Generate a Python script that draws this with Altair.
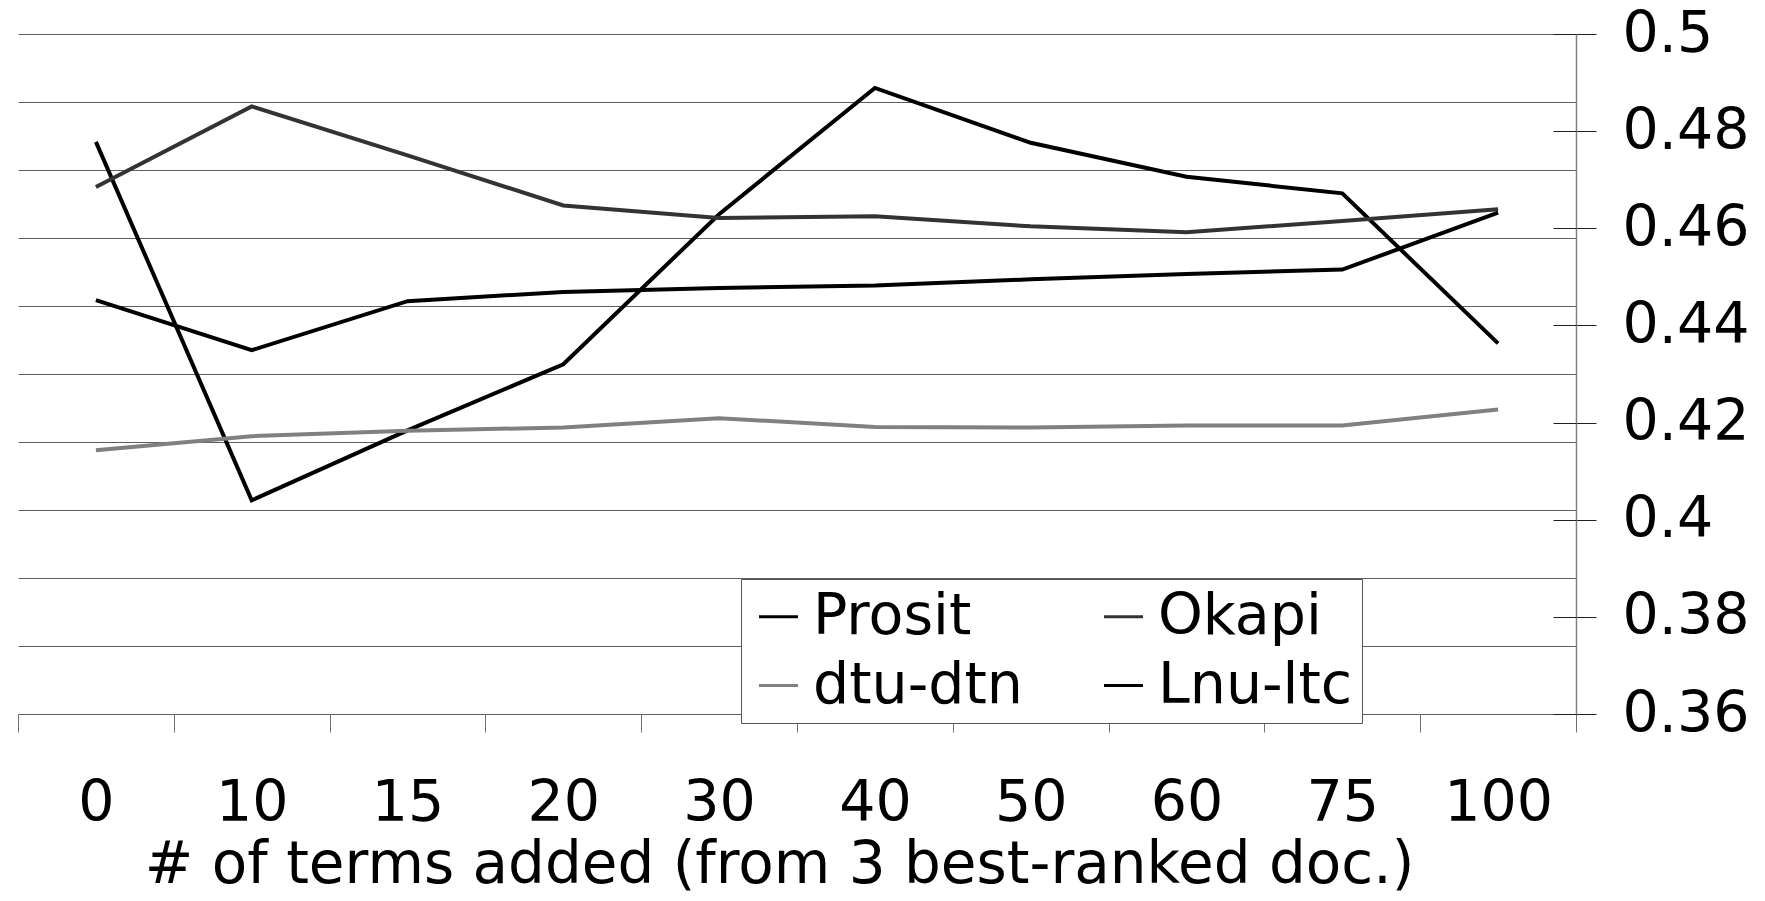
import altair as alt
import pandas as pd

# ---- data ----
terms = ["0", "10", "15", "20", "30", "40", "50", "60", "75", "100"]
prosit = [0.4778, 0.4040, 0.4184, 0.4320, 0.4629, 0.4889, 0.4776, 0.4706, 0.4672, 0.4363]
okapi = [0.4685, 0.4851, 0.4750, 0.4647, 0.4621, 0.4625, 0.4604, 0.4592, 0.4615, 0.4639]
dtu_dtn = [0.4143, 0.4172, 0.4183, 0.4190, 0.4209, 0.4191, 0.4190, 0.4194, 0.4194, 0.4227]
lnu_ltc = [0.4452, 0.4349, 0.4450, 0.4469, 0.4477, 0.4482, 0.4495, 0.4506, 0.4515, 0.4632]

series_names = ["Prosit", "Okapi", "dtu-dtn", "Lnu-ltc"]
# legend is filled column by column, so list it as: col1 (Prosit, dtu-dtn), col2 (Okapi, Lnu-ltc)
legend_order = ["Prosit", "dtu-dtn", "Okapi", "Lnu-ltc"]
legend_colors = ["#000000", "#808080", "#333333", "#000000"]
right_ticks = [0.36, 0.38, 0.40, 0.42, 0.44, 0.46, 0.48, 0.50]
grid_values = [0.36, 0.374, 0.388, 0.402, 0.416, 0.43, 0.444, 0.458, 0.472, 0.486, 0.5]
y_domain = [0.36, 0.5]

rows = []
for name, vals in zip(series_names, [prosit, okapi, dtu_dtn, lnu_ltc]):
    for t, v in zip(terms, vals):
        rows.append({"terms": t, "series": name, "value": v})
df = pd.DataFrame(rows)

FONT = "DejaVu Sans"
xscale = alt.Scale(type="band", paddingInner=0, paddingOuter=0)
xaxis = alt.Axis(title="# of terms added (from 3 best-ranked doc.)", labelAngle=0,
                 labelFont=FONT, labelFontSize=57, labelColor="black", labelPadding=43,
                 tickSize=18, tickColor="#707070", tickWidth=1, tickBand="extent",
                 domain=False, grid=False,
                 titleFont=FONT, titleFontSize=58, titleFontWeight="normal",
                 titleColor="black", titleX=761, titleY=168, titleAlign="center",
                 titleBaseline="alphabetic")
xenc = alt.X("terms:O", sort=terms, scale=xscale, axis=xaxis)

base = alt.Chart(df)

grid = base.mark_point(opacity=0).encode(
    x=xenc,
    y=alt.Y("value:Q", scale=alt.Scale(domain=y_domain, nice=False, zero=False),
            axis=alt.Axis(orient="left", values=grid_values, grid=True, gridColor="#5e5e5e",
                          gridWidth=1, labels=False, ticks=False, domain=False, title=None)),
)

lines = base.mark_line(strokeWidth=4).encode(
    x=xenc,
    y=alt.Y("value:Q", scale=alt.Scale(domain=y_domain, nice=False, zero=False),
            axis=alt.Axis(orient="right", values=right_ticks, format=".2~f", grid=False,
                          tickSize=20, tickColor="#202020", tickWidth=1,
                          domain=True, domainColor="#808080", domainWidth=1.5,
                          labelFont=FONT, labelFontSize=57, labelColor="black",
                          labelPadding=26, title=None)),
    color=alt.Color("series:N",
                    scale=alt.Scale(domain=legend_order, range=legend_colors),
                    legend=alt.Legend(title=None, orient="none", legendX=723, legendY=545,
                                      columns=2, labelFont=FONT, labelFontSize=57,
                                      labelColor="black", symbolType="stroke", symbolSize=1521,
                                      symbolStrokeWidth=3, labelOffset=6, columnPadding=72,
                                      rowPadding=11, padding=9, strokeColor="#555555",
                                      fillColor="white", labelLimit=0)),
)

inner = base.mark_point(opacity=0).encode(
    x=xenc,
    y=alt.Y("value:Q", scale=alt.Scale(domain=y_domain, nice=False, zero=False),
            axis=alt.Axis(orient="right", offset=-23, values=right_ticks, tickSize=23,
                          tickColor="#202020", tickWidth=1, labels=False, domain=False,
                          grid=False, title=None)),
)

chart = alt.layer(grid, lines, inner).resolve_scale(y="independent").properties(
    width=1558, height=680,
    autosize=alt.AutoSizeParams(type="none"),
    padding={"left": 10, "top": 26, "right": 177, "bottom": 180},
).configure(font=FONT).configure_view(stroke=None)

chart.save("out.html", embed_options={"renderer": "svg", "actions": False})
